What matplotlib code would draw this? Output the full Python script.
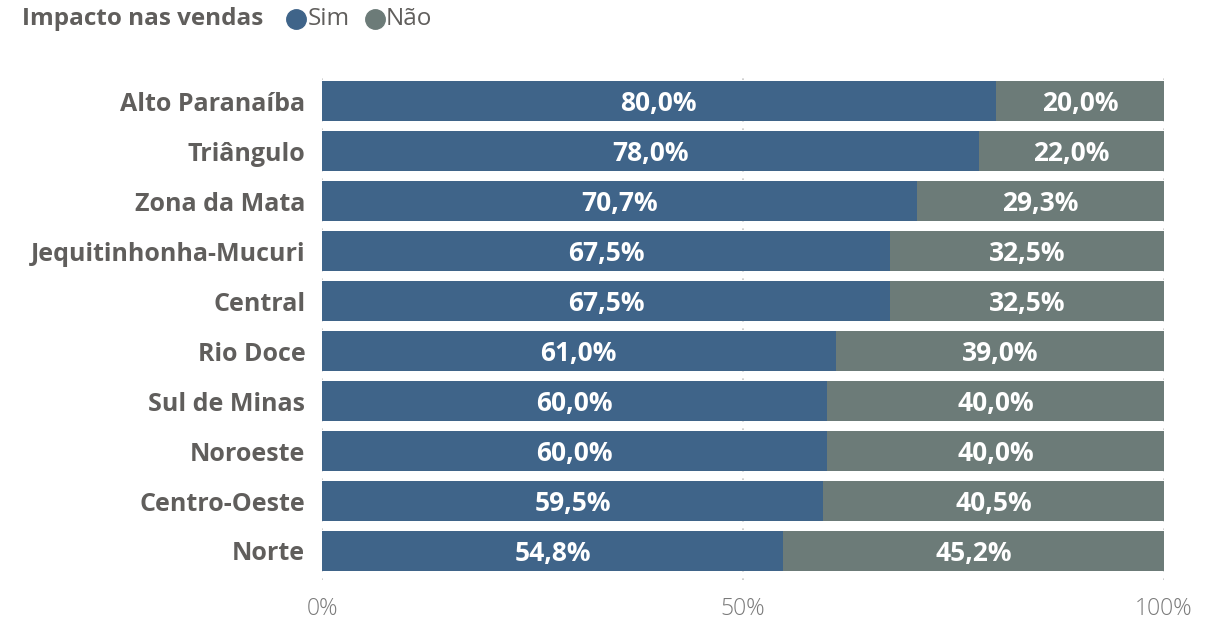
import numpy as np
import matplotlib.pyplot as plt
from matplotlib.ticker import FixedLocator

REGIOES = ["Alto Paranaíba", "Triângulo", "Zona da Mata", "Jequitinhonha-Mucuri",
           "Central", "Rio Doce", "Sul de Minas", "Noroeste", "Centro-Oeste", "Norte"]
SIM = [80.0, 78.0, 70.7, 67.5, 67.5, 61.0, 60.0, 60.0, 59.5, 54.8]
NAO = [20.0, 22.0, 29.3, 32.5, 32.5, 39.0, 40.0, 40.0, 40.5, 45.2]
TICKS = [0, 50, 100]
TICK_LABELS = ["0%", "50%", "100%"]

C_SIM = "#3F6489"
C_NAO = "#6C7B78"
C_TXT = "#605E5C"
FONT = "Open Sans"

plt.rcParams["font.family"] = [FONT, "DejaVu Sans"]

fig = plt.figure(figsize=(12.15, 6.24), dpi=100)
ax = fig.add_axes([322 / 1215, 1 - 580 / 624, (1164 - 322) / 1215, (580 - 72) / 624])

y = np.arange(len(REGIOES))
sim = np.array(SIM)
nao = np.array(NAO)
ax.barh(y, sim, height=0.8, color=C_SIM, zorder=3)
ax.barh(y, nao, left=sim, height=0.8, color=C_NAO, zorder=3)

for i in range(len(REGIOES)):
    ax.text(sim[i] / 2, y[i] + 0.05, f"{sim[i]:.1f}%".replace(".", ","), ha="center",
            va="center", color="white", fontsize=19, fontweight="bold", zorder=4)
    ax.text(sim[i] + nao[i] / 2, y[i] + 0.05, f"{nao[i]:.1f}%".replace(".", ","),
            ha="center", va="center", color="white", fontsize=19, fontweight="bold", zorder=4)

ax.set_xlim(0, 100)
ax.set_ylim(len(REGIOES) - 0.42, -0.58)
ax.set_yticks(y)
ax.set_yticklabels(REGIOES, fontsize=18, fontweight="bold", color=C_TXT)
ax.xaxis.set_major_locator(FixedLocator(TICKS))
ax.set_xticklabels(TICK_LABELS, fontsize=16.5, color="#7A7A7A", fontweight="light")
ax.tick_params(axis="both", length=0)
ax.tick_params(axis="x", pad=12)
ax.tick_params(axis="y", pad=12)
ax.grid(axis="x", color="#C8C8C8", linestyle=(0, (1, 4)), linewidth=1.2, zorder=0)
for s in ax.spines.values():
    s.set_visible(False)

# legenda
fig.text(22 / 1215, 1 - 19 / 624, "Impacto nas vendas", ha="left", va="center",
         fontsize=17.5, fontweight="bold", color=C_TXT)
fig.lines.append(plt.Line2D([296 / 1215], [1 - 19 / 624], marker="o", markersize=14,
                            color=C_SIM, transform=fig.transFigure, linestyle="none"))
fig.text(308 / 1215, 1 - 19 / 624, "Sim", ha="left", va="center", fontsize=17.5,
         color=C_TXT)
fig.lines.append(plt.Line2D([375 / 1215], [1 - 19 / 624], marker="o", markersize=14,
                            color=C_NAO, transform=fig.transFigure, linestyle="none"))
fig.text(386 / 1215, 1 - 19 / 624, "Não", ha="left", va="center", fontsize=17.5,
         color=C_TXT)

fig.savefig("out.png", dpi=100, facecolor="white")
